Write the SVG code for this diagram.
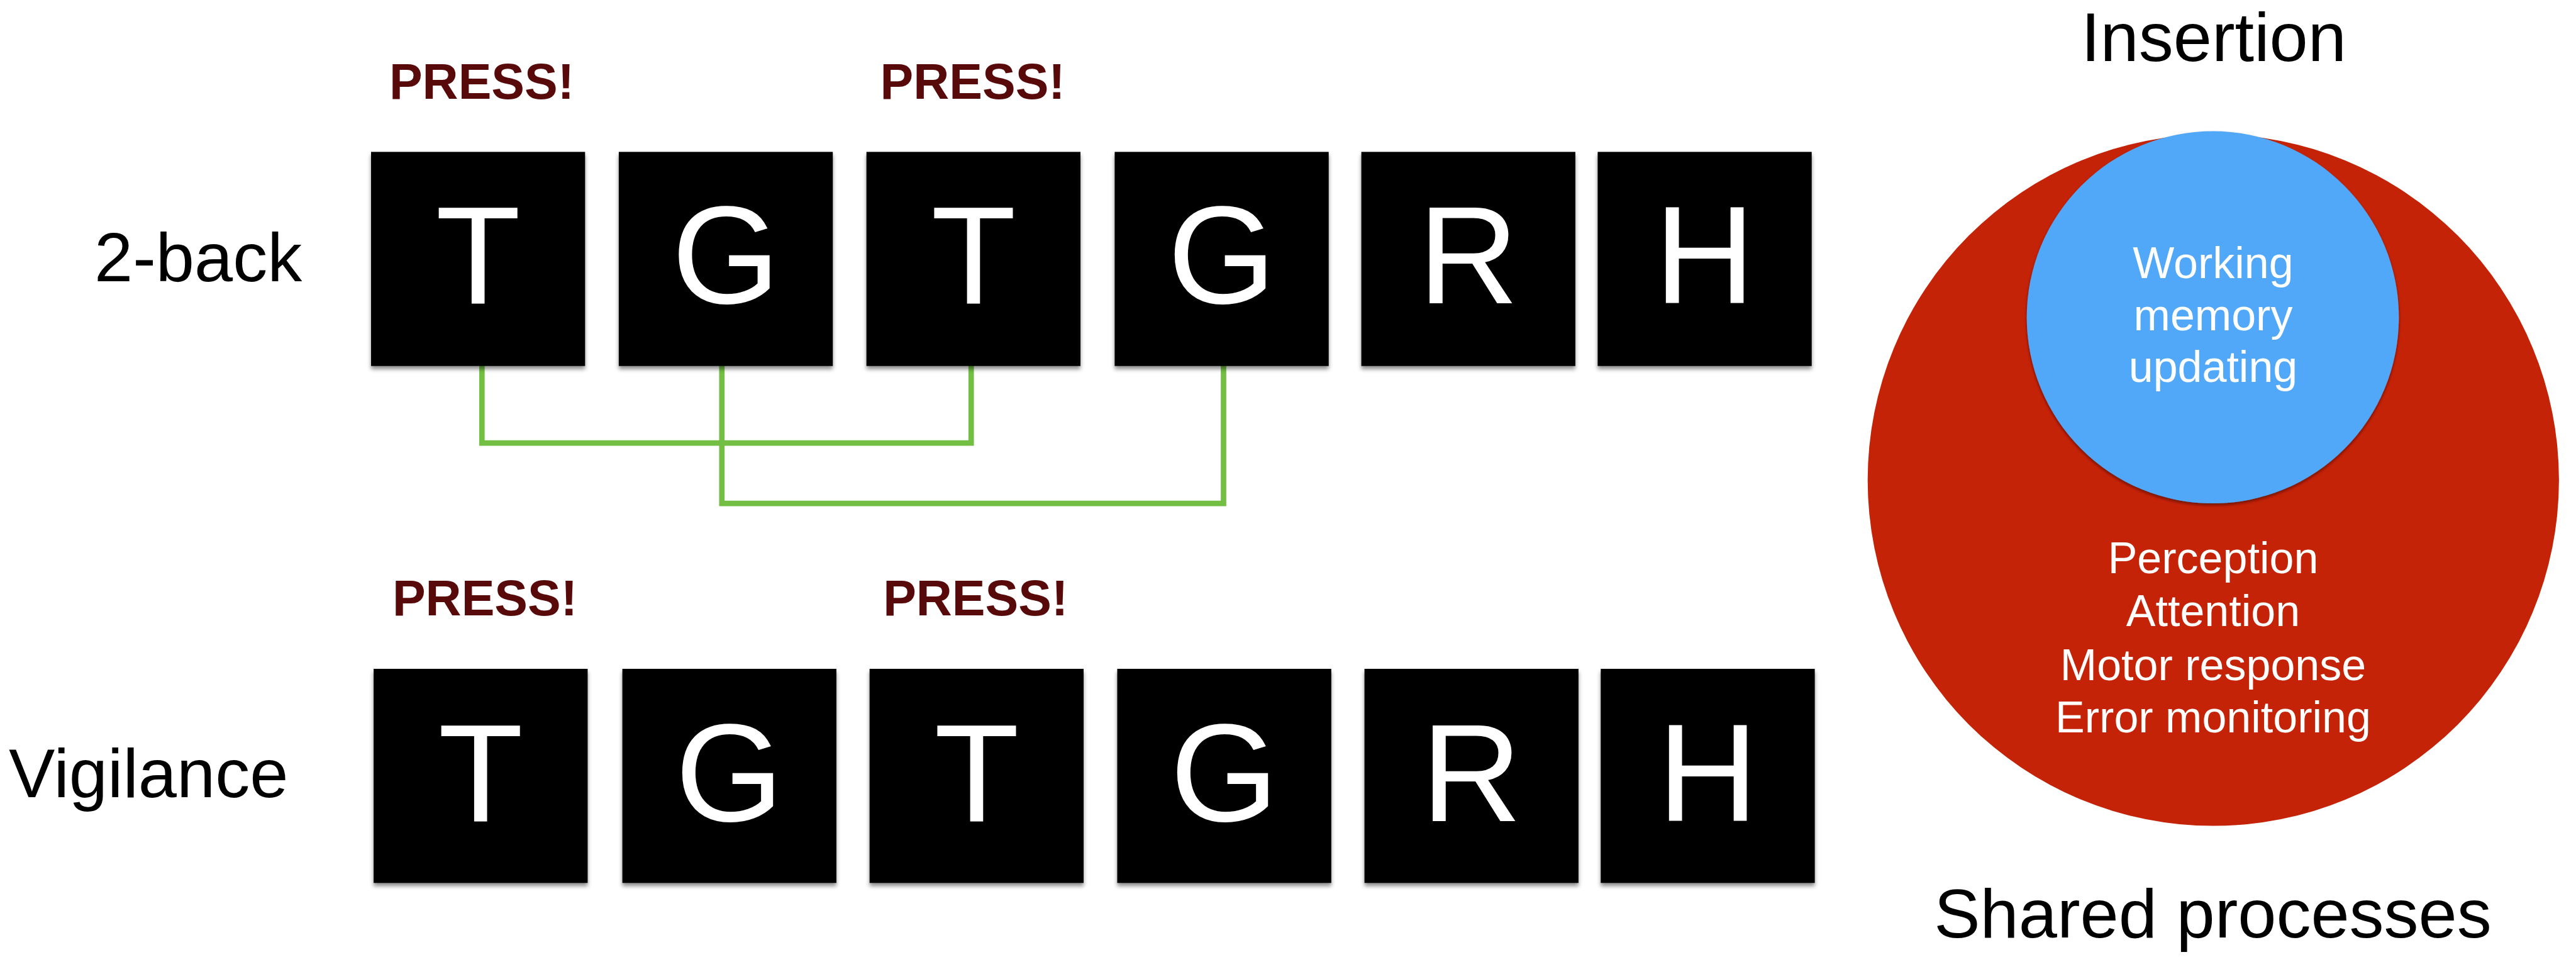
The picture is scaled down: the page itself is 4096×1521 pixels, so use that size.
<svg xmlns="http://www.w3.org/2000/svg" width="4096" height="1521" viewBox="0 0 4096 1521">
<defs>
<filter id="shadow" x="-10%" y="-10%" width="120%" height="130%">
<feDropShadow dx="0" dy="5" stdDeviation="3" flood-color="#000" flood-opacity="0.45"/>
</filter>
<filter id="cshadow" x="-10%" y="-10%" width="120%" height="130%">
<feDropShadow dx="0" dy="3" stdDeviation="2" flood-color="#5a0c00" flood-opacity="0.8"/>
</filter>
</defs>
<style>
.box{fill:#000;filter:url(#shadow)}
.let{font-family:"Liberation Sans",Arial,sans-serif;font-size:221px;fill:#fff;text-anchor:middle}
.lbl{font-family:"Liberation Sans",Arial,sans-serif;font-size:110px;fill:#000}
.press{font-family:"Liberation Sans",Arial,sans-serif;font-size:79px;font-weight:bold;fill:#580A0A;text-anchor:middle}
.conn{fill:none;stroke:#72BF44;stroke-width:8.7;stroke-linejoin:miter}
.ct{font-family:"Liberation Sans",Arial,sans-serif;font-size:70px;fill:#fff;text-anchor:middle}
.title{font-family:"Liberation Sans",Arial,sans-serif;font-size:110px;fill:#000;text-anchor:middle}
</style>
<rect width="4096" height="1521" fill="#fff"/>
<g id="connectors">
<polyline class="conn" points="766.3,560 766.3,704.1 1544.2,704.1 1544.2,560"/>
<polyline class="conn" points="1147.8,560 1147.8,800.1 1945.5,800.1 1945.5,560"/>
</g>
<g id="label-2back"><text class="lbl" x="150" y="446.6">2-back</text></g>
<g id="label-vigilance"><text class="lbl" x="14" y="1266.5">Vigilance</text></g>
<g id="press-top-1"><text class="press" x="766" y="157.4">PRESS!</text></g>
<g id="press-top-2"><text class="press" x="1546.6" y="157.4">PRESS!</text></g>
<g id="press-bot-1"><text class="press" x="771" y="978.1">PRESS!</text></g>
<g id="press-bot-2"><text class="press" x="1551.2" y="978.1">PRESS!</text></g>
<g id="top-1"><rect class="box" x="590" y="241.4" width="340.3" height="340.3"/><text class="let" x="760.2" y="482">T</text></g>
<g id="top-2"><rect class="box" x="983.9" y="241.4" width="340.3" height="340.3"/><text class="let" x="1154.1" y="482">G</text></g>
<g id="top-3"><rect class="box" x="1377.7" y="241.4" width="340.3" height="340.3"/><text class="let" x="1547.9" y="482">T</text></g>
<g id="top-4"><rect class="box" x="1772.4" y="241.4" width="340.3" height="340.3"/><text class="let" x="1942.6" y="482">G</text></g>
<g id="top-5"><rect class="box" x="2164.6" y="241.4" width="340.3" height="340.3"/><text class="let" x="2334.8" y="482">R</text></g>
<g id="top-6"><rect class="box" x="2540.4" y="241.4" width="340.3" height="340.3"/><text class="let" x="2710.6" y="482">H</text></g>
<g id="bot-1"><rect class="box" x="594.1" y="1063" width="340.3" height="340.3"/><text class="let" x="764.3" y="1305.2">T</text></g>
<g id="bot-2"><rect class="box" x="989.6" y="1063" width="340.3" height="340.3"/><text class="let" x="1159.8" y="1305.2">G</text></g>
<g id="bot-3"><rect class="box" x="1382.7" y="1063" width="340.3" height="340.3"/><text class="let" x="1552.9" y="1305.2">T</text></g>
<g id="bot-4"><rect class="box" x="1776.5" y="1063" width="340.3" height="340.3"/><text class="let" x="1946.7" y="1305.2">G</text></g>
<g id="bot-5"><rect class="box" x="2169.6" y="1063" width="340.3" height="340.3"/><text class="let" x="2339.8" y="1305.2">R</text></g>
<g id="bot-6"><rect class="box" x="2545.3" y="1063" width="340.3" height="340.3"/><text class="let" x="2715.5" y="1305.2">H</text></g>
<g id="insertion-title"><text class="title" x="3520" y="97.2">Insertion</text></g>
<g id="shared-circle">
<circle cx="3519.3" cy="763" r="549.6" fill="#C42307"/>
<text class="ct" x="3519" y="911.3">Perception</text>
<text class="ct" x="3519" y="995.4">Attention</text>
<text class="ct" x="3519" y="1081.1">Motor response</text>
<text class="ct" x="3519" y="1164.3">Error monitoring</text>
</g>
<g id="wm-circle">
<circle cx="3518.5" cy="504.3" r="295.8" fill="#51A8F8" filter="url(#cshadow)"/>
<text class="ct" x="3519" y="441.7">Working</text>
<text class="ct" x="3519" y="524.9">memory</text>
<text class="ct" x="3519" y="607.3">updating</text>
</g>
<g id="shared-title"><text class="title" x="3518.5" y="1489.8">Shared processes</text></g>
</svg>
